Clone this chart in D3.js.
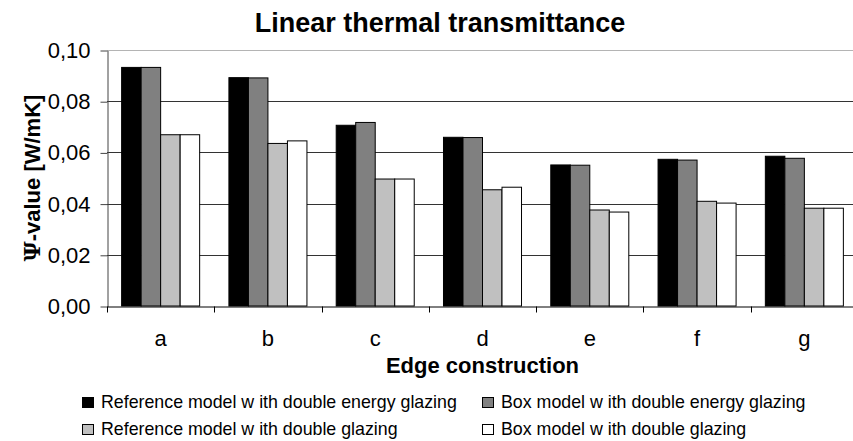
<!DOCTYPE html>
<html>
<head>
<meta charset="utf-8">
<script src="https://cdn.jsdelivr.net/npm/d3@7"></script>
<style>
  body { margin: 0; background: #fff; }
  text { font-family: Arial, "Liberation Sans", sans-serif; fill: #000; }
</style>
</head>
<body>
<svg id="chart" width="853" height="441"></svg>
<script>
const categories = ["a", "b", "c", "d", "e", "f", "g"];
const seriesNames = [
  "Reference model w ith double energy glazing",
  "Box model w ith double energy glazing",
  "Reference model w ith double glazing",
  "Box model w ith double glazing"
];
const refEnergy = [0.0932, 0.0892, 0.0706, 0.0659, 0.0551, 0.0573, 0.0585];
const boxEnergy = [0.0932, 0.0891, 0.0717, 0.0658, 0.0550, 0.0570, 0.0577];
const refDouble = [0.0669, 0.0635, 0.0496, 0.0454, 0.0375, 0.0409, 0.0382];
const boxDouble = [0.0669, 0.0645, 0.0496, 0.0464, 0.0367, 0.0402, 0.0382];
const yTicks = [0, 0.02, 0.04, 0.06, 0.08, 0.10];
const colors = ["#000000", "#808080", "#c0c0c0", "#ffffff"];

function drawChart() {
  const svg = d3.select("#chart");
  const allSeries = [refEnergy, boxEnergy, refDouble, boxDouble];

  const left = 107, right = 858, top = 50, bottom = 306;

  const xScale = d3.scaleBand().domain(categories).range([left, right]);
  const step = xScale.bandwidth();
  const barW = step / 5.5;   // gap width 150%
  const xInner = d3.scaleBand()
    .domain(d3.range(allSeries.length))
    .range([barW * 0.75, step - barW * 0.75]);

  const yScale = d3.scaleLinear().domain([0, 0.1]).range([bottom, top]);

  // gridlines
  svg.append("g")
    .selectAll("line")
    .data(yTicks.slice(1))
    .enter()
    .append("line")
    .attr("x1", left)
    .attr("x2", right)
    .attr("y1", d => Math.round(yScale(d)) + 0.5)
    .attr("y2", d => Math.round(yScale(d)) + 0.5)
    .attr("stroke", d => d === 0.10 ? "#b4b4b4" : "#333")
    .attr("stroke-width", 1);

  // bars
  const groups = svg.append("g")
    .selectAll("g")
    .data(categories)
    .enter()
    .append("g")
    .attr("transform", d => `translate(${xScale(d)},0)`);

  groups.selectAll("rect")
    .data((d, i) => allSeries.map((s, k) => ({k: k, v: s[i]})))
    .enter()
    .append("rect")
    .attr("x", d => xInner(d.k))
    .attr("y", d => yScale(d.v))
    .attr("width", xInner.bandwidth())
    .attr("height", d => bottom - yScale(d.v))
    .attr("fill", d => colors[d.k])
    .attr("stroke", "#000")
    .attr("stroke-width", 1);

  // y axis
  const yAxis = d3.axisLeft(yScale)
    .tickValues(yTicks)
    .tickSizeInner(7)
    .tickSizeOuter(0)
    .tickPadding(10)
    .tickFormat(d => d3.format(".2f")(d).replace(".", ","));

  const gy = svg.append("g")
    .attr("transform", `translate(${left + 0.5},0.5)`)
    .call(yAxis);
  gy.selectAll("path, line").attr("stroke", "#444");
  gy.selectAll("text")
    .attr("font-size", 22)
    .attr("font-family", "Arial, 'Liberation Sans', sans-serif")
    .attr("fill", "#000");

  // x axis
  const xAxis = d3.axisBottom(xScale).tickSize(0).tickPadding(24);
  const gx = svg.append("g")
    .attr("transform", `translate(0,${bottom + 0.5})`)
    .call(xAxis);
  gx.select(".domain").attr("stroke", "#000");
  gx.selectAll("text")
    .attr("font-size", 22)
    .attr("font-family", "Arial, 'Liberation Sans', sans-serif")
    .attr("fill", "#000");

  // category boundary ticks
  gx.selectAll(".bound")
    .data(categories.map(c => xScale(c)).concat([right]))
    .enter()
    .append("line")
    .attr("class", "bound")
    .attr("x1", d => Math.round(d) + 0.5)
    .attr("x2", d => Math.round(d) + 0.5)
    .attr("y1", 0)
    .attr("y2", 6)
    .attr("stroke", "#000");

  // titles
  svg.append("text")
    .attr("x", 440)
    .attr("y", 32)
    .attr("text-anchor", "middle")
    .attr("font-size", 27)
    .attr("font-weight", "bold")
    .text("Linear thermal transmittance");

  svg.append("text")
    .attr("x", (left + right) / 2)
    .attr("y", 373)
    .attr("text-anchor", "middle")
    .attr("font-size", 22)
    .attr("font-weight", "bold")
    .text("Edge construction");

  const yTitle = svg.append("text")
    .attr("transform", `translate(40,${(top + bottom) / 2}) rotate(-90)`)
    .attr("text-anchor", "middle")
    .attr("font-size", 22)
    .attr("font-weight", "bold");
  yTitle.append("tspan")
    .attr("font-family", "'DejaVu Serif', serif")
    .text("\u03A8");
  yTitle.append("tspan").text("-value [W/mK]");

  // legend
  const legendX = [82, 482];
  const legendY = [408, 435];
  const legend = svg.append("g")
    .selectAll("g")
    .data(seriesNames)
    .enter()
    .append("g")
    .attr("transform", (d, i) => `translate(${legendX[i % 2]},${legendY[Math.floor(i / 2)]})`);

  legend.append("rect")
    .attr("x", 0.5)
    .attr("y", -10.5)
    .attr("width", 11)
    .attr("height", 10)
    .attr("fill", (d, i) => colors[i])
    .attr("stroke", "#000");

  legend.append("text")
    .attr("x", 19)
    .attr("y", 0)
    .attr("font-size", 17.8)
    .text(d => d);
}

drawChart();
</script>
</body>
</html>
